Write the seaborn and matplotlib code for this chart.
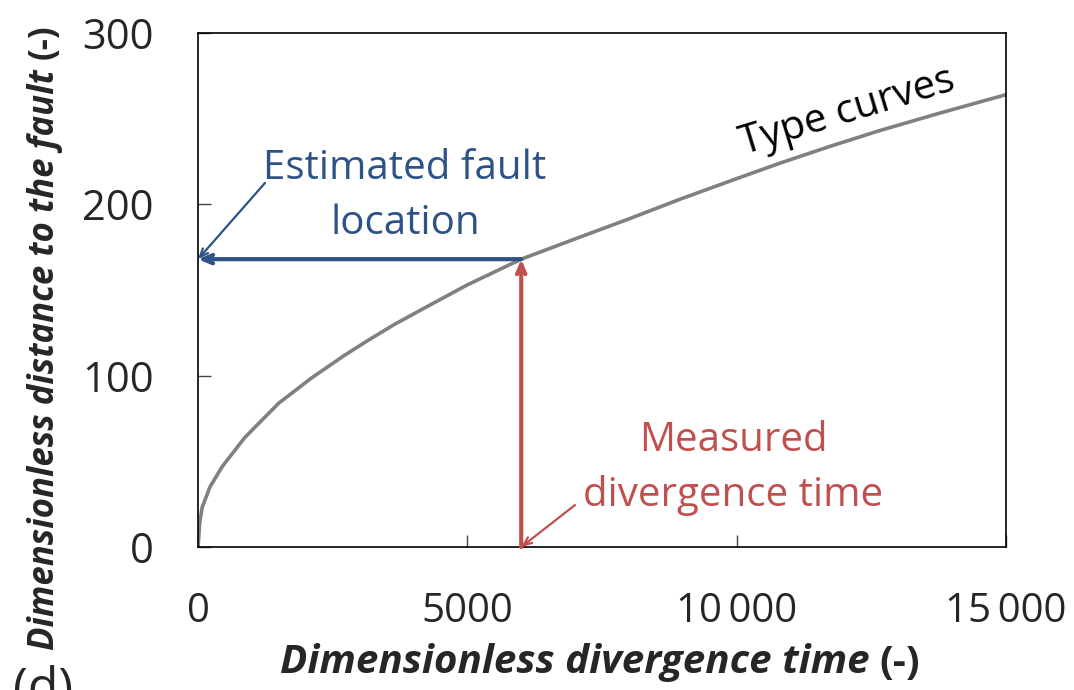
import matplotlib
matplotlib.use("Agg")
import matplotlib.pyplot as plt
import seaborn as sns
import pandas as pd

# Curva tipo
tiempo = [0, 30, 75, 220, 450, 870, 1500, 2100, 2700, 3150, 3650, 4350, 5000,
          6000, 7100, 8000, 8950, 10000, 10800, 11700, 12650, 13800, 15000]
distancia = [0, 14, 23, 35, 47, 64, 84, 98.5, 111.5, 120.5, 130, 142, 153,
             168, 181, 191.5, 203, 215, 224, 233.5, 243, 253.5, 264]

# Punto medido
tiempo_medido = 6000
distancia_falla = 168

xticks = [0, 5000, 10000, 15000]
xtick_labels = ["0", "5000", "10\u2009000", "15\u2009000"]
yticks = [0, 100, 200, 300]

azul = "#2C5287"
rojo = "#C0504D"
gris = "#808080"

sns.set_style("ticks")
plt.rcParams["font.family"] = ["Open Sans", "DejaVu Sans"]

df = pd.DataFrame({"t": tiempo, "d": distancia})

W, H = 1074, 690
fig = plt.figure(figsize=(W / 100, H / 100), dpi=100)
ax = fig.add_axes([0.1844, 0.2072, 0.7523, 0.745])
sns.lineplot(data=df, x="t", y="d", color=gris, linewidth=2.6, ax=ax)

ax.set_xlim(0, 15000)
ax.set_ylim(0, 300)
ax.set_xticks(xticks)
ax.set_xticklabels(xtick_labels, fontsize=29)
ax.set_yticks(yticks)
ax.set_yticklabels([str(v) for v in yticks], fontsize=30)
ax.tick_params(direction="in", length=9, width=1, pad=32, color="#444444")
ax.set_xlabel("")
ax.set_ylabel("")
for s in ax.spines.values():
    s.set_visible(True)
    s.set_linewidth(1.2)
    s.set_color("black")

# Titulos de ejes: parte en cursiva negrita + "(-)" en negrita
r = fig.canvas.get_renderer()

tx = fig.text(280 / W, 1 - 663 / H, "Dimensionless divergence time", fontsize=30,
              fontweight="bold", fontstyle="italic", ha="left", va="center")
bb = tx.get_window_extent(r)
tx.set_fontsize(30 * 590 / bb.width)
bb = tx.get_window_extent(r)
fig.text((bb.x1 + 10) / W, 1 - 663 / H, "(-)", fontsize=tx.get_fontsize(),
         fontweight="bold", ha="left", va="center")

ty = fig.text(45 / W, 40 / H, "Dimensionless distance to the fault", fontsize=28,
              fontweight="bold", fontstyle="italic", rotation=90,
              ha="center", va="bottom")
bb = ty.get_window_extent(r)
ty.set_fontsize(28 * 580 / bb.height)
bb = ty.get_window_extent(r)
fig.text(45 / W, (bb.y1 + 10) / H, "(-)", fontsize=ty.get_fontsize(),
         fontweight="bold", rotation=90, ha="center", va="bottom")

# Flechas
ax.annotate("", xy=(0, distancia_falla), xytext=(tiempo_medido, distancia_falla),
            arrowprops=dict(arrowstyle="->, head_length=0.7, head_width=0.3",
                            color=azul, lw=3, shrinkA=0, shrinkB=0))
ax.annotate("", xy=(tiempo_medido, distancia_falla), xytext=(tiempo_medido, 0),
            arrowprops=dict(arrowstyle="->, head_length=0.7, head_width=0.3",
                            color=rojo, lw=3, shrinkA=0, shrinkB=0))
ax.annotate("", xy=(0, distancia_falla), xytext=(1244, 212.5),
            arrowprops=dict(arrowstyle="->, head_length=0.6, head_width=0.25",
                            color=azul, lw=1.6, shrinkA=0, shrinkB=0),
            annotation_clip=False)
ax.annotate("", xy=(tiempo_medido, 0), xytext=(6998, 24.5),
            arrowprops=dict(arrowstyle="->, head_length=0.6, head_width=0.25",
                            color=rojo, lw=1.6, shrinkA=0, shrinkB=0),
            annotation_clip=False)

ax.text(3843, 204.6, "Estimated fault\nlocation", color=azul, fontsize=29,
        ha="center", va="center", linespacing=1.47)
ax.text(9931, 46, "Measured\ndivergence time", color=rojo, fontsize=29,
        ha="center", va="center", linespacing=1.47)
ax.text(12050, 254, "Type curves", color="black", fontsize=29,
        ha="center", va="center", rotation=17, rotation_mode="anchor")

fig.text(0.012, -0.019, "(d)", fontsize=36, ha="left", va="baseline")

fig.savefig("out.png", dpi=100)
plt.close(fig)
